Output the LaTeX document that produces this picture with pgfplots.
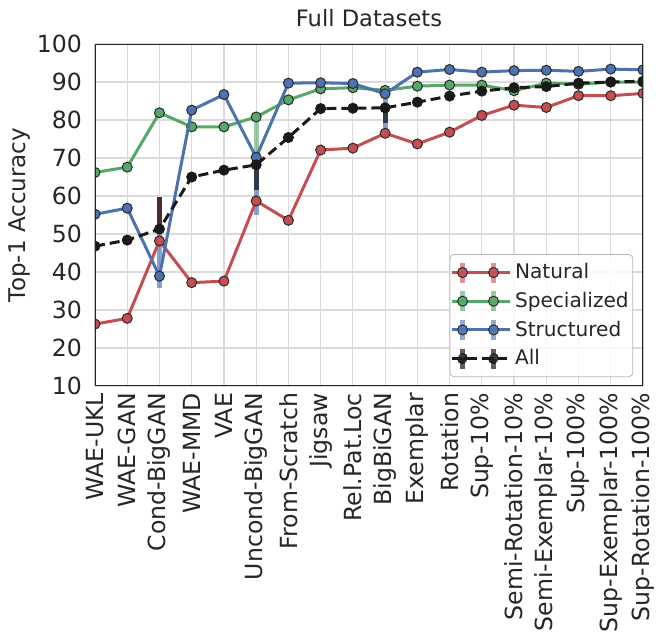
\documentclass[border=0pt]{standalone}
\usepackage{pgfplots}
\pgfplotsset{compat=1.18}
\usepackage{fontspec}
\setmainfont{DejaVu Sans}
\definecolor{cN}{HTML}{C44E52}
\definecolor{cS}{HTML}{55A868}
\definecolor{cT}{HTML}{4C72B0}
\definecolor{cA}{HTML}{1A1A1A}
\definecolor{spine}{HTML}{262626}
\definecolor{txt}{HTML}{262626}
\definecolor{mk}{HTML}{2A2A2A}
\definecolor{ebA}{HTML}{2F3A4A}
\definecolor{ebR}{HTML}{4A2C2E}
\pgfplotsset{
  leg/.style={legend image code/.code={
    \path (0pt,0pt) -- (29pt,0pt);
    \draw[draw=#1, draw opacity=0.6, line width=2.5pt] (5.5pt,-5pt)--(5.5pt,5pt) (21pt,-5pt)--(21pt,5pt);
    \draw[#1, line width=1.5pt] (5.5pt,0pt)--(21pt,0pt);
    \filldraw[fill=#1, draw=mk, line width=0.5pt] (5.5pt,0pt) circle (2.5pt) (21pt,0pt) circle (2.5pt);
  }},
  legA/.style={legend image code/.code={
    \path (0pt,0pt) -- (29pt,0pt);
    \draw[draw=cA, draw opacity=0.7, line width=2.5pt] (5.5pt,-5pt)--(5.5pt,5pt) (21pt,-5pt)--(21pt,5pt);
    \draw[cA, line width=1.5pt, dash pattern=on 6pt off 3.5pt] (5.5pt,0pt)--(21pt,0pt);
    \filldraw[fill=cA, draw=cA, line width=0.5pt] (5.5pt,0pt) circle (2.5pt) (21pt,0pt) circle (2.5pt);
  }},
}
\begin{document}
\begin{tikzpicture}
\useasboundingbox (-47.5pt,-127pt) rectangle (284.5pt,193pt);
\begin{axis}[
  at={(0pt,0pt)}, anchor=south west,
  scale only axis, width=274pt, height=171pt,
  xmin=0, xmax=17, ymin=10, ymax=100,
  xtick={0,...,17},
  xticklabels={WAE-UKL,WAE-GAN,Cond-BigGAN,WAE-MMD,VAE,Uncond-BigGAN,From-Scratch,Jigsaw,Rel.Pat.Loc,BigBiGAN,Exemplar,Rotation,Sup-10\%,Semi-Rotation-10\%,Semi-Exemplar-10\%,Sup-100\%,Sup-Exemplar-100\%,Sup-Rotation-100\%},
  ytick={10,20,...,100},
  x tick label style={rotate=90, anchor=east},
  y tick label style={xshift=-3pt},
  tick label style={font=\fontsize{11.8}{14}\selectfont, text=txt},
  /pgf/number format/assume math mode=true,
  major tick length=0pt,
  grid=major,
  major grid style={draw=gray!28, line width=0.6pt},
  axis line style={draw=none},
  every axis y label/.style={at={(rel axis cs:0,0.5)}, xshift=-37.5pt, rotate=90, anchor=center, font=\fontsize{11.5}{14}\selectfont, text=txt},
  ylabel={Top-1 Accuracy},
  every axis title/.style={at={(rel axis cs:0.5,1)}, yshift=13pt, anchor=center, font=\fontsize{11.3}{14}\selectfont, text=txt},
  title={Full Datasets},
  clip marker paths=true,
  legend style={at={(0.982,0.026)}, anchor=south east, font=\fontsize{10.05}{12}\selectfont, text=txt,
    draw=gray!55, rounded corners=2pt, fill=white, fill opacity=0.85, text opacity=1, row sep=1.2pt, inner xsep=0pt, inner ysep=2.5pt},
  legend cell align=left,
]
% error bars
\addplot[forget plot, draw=ebR, line width=2.5pt] coordinates {(2,51.3) (2,59.8)};
\addplot[forget plot, draw=cT, draw opacity=0.65, line width=2.5pt] coordinates {(2,35.7) (2,50.5)};
\addplot[forget plot, draw=cS, draw opacity=0.6, line width=2.5pt] coordinates {(5,70.2) (5,80.8)};
\addplot[forget plot, draw=ebA, line width=2.5pt] coordinates {(5,61.6) (5,68.2)};
\addplot[forget plot, draw=cT, draw opacity=0.65, line width=2.5pt] coordinates {(5,55.0) (5,61.6)};
\addplot[forget plot, draw=cT, draw opacity=0.65, line width=2.5pt] coordinates {(9,76.5) (9,87.0)};
\addplot[forget plot, draw=ebA, line width=2.5pt] coordinates {(9,79.1) (9,83.2)};
% series
\addplot[leg=cN, color=cN, line width=1.5pt, mark=*, mark size=2.5pt, mark options={fill=cN, draw=mk, line width=0.5pt, solid}] coordinates {
(0,26.3) (1,27.8) (2,48.2) (3,37.2) (4,37.6) (5,58.7) (6,53.6) (7,72.1) (8,72.6) (9,76.5) (10,73.7) (11,76.8) (12,81.2) (13,83.9) (14,83.3) (15,86.4) (16,86.4) (17,87.0)};
\addlegendentry{Natural}
\addplot[leg=cS, color=cS, line width=1.5pt, mark=*, mark size=2.5pt, mark options={fill=cS, draw=mk, line width=0.5pt, solid}] coordinates {
(0,66.2) (1,67.6) (2,81.9) (3,78.2) (4,78.2) (5,80.8) (6,85.3) (7,88.2) (8,88.5) (9,87.8) (10,88.9) (11,89.2) (12,89.2) (13,87.7) (14,89.7) (15,89.4) (16,90.0) (17,90.0)};
\addlegendentry{Specialized}
\addplot[leg=cT, color=cT, line width=1.5pt, mark=*, mark size=2.5pt, mark options={fill=cT, draw=mk, line width=0.5pt, solid}] coordinates {
(0,55.2) (1,56.8) (2,38.9) (3,82.6) (4,86.7) (5,70.2) (6,89.7) (7,89.8) (8,89.6) (9,86.9) (10,92.6) (11,93.3) (12,92.6) (13,93.0) (14,93.1) (15,92.8) (16,93.4) (17,93.2)};
\addlegendentry{Structured}
\addplot[legA, color=cA, line width=1.5pt, dash pattern=on 5pt off 2.5pt, mark=*, mark size=2.5pt, mark options={fill=cA, draw=cA, line width=0.5pt, solid}] coordinates {
(0,46.8) (1,48.4) (2,51.3) (3,65.0) (4,66.8) (5,68.2) (6,75.4) (7,83.0) (8,83.1) (9,83.2) (10,84.7) (11,86.3) (12,87.6) (13,88.5) (14,88.8) (15,89.7) (16,90.0) (17,90.2)};
\addlegendentry{All}
\draw[draw=spine, line width=1.2pt] (rel axis cs:0,0) rectangle (rel axis cs:1,1);
\end{axis}
\end{tikzpicture}
\end{document}
